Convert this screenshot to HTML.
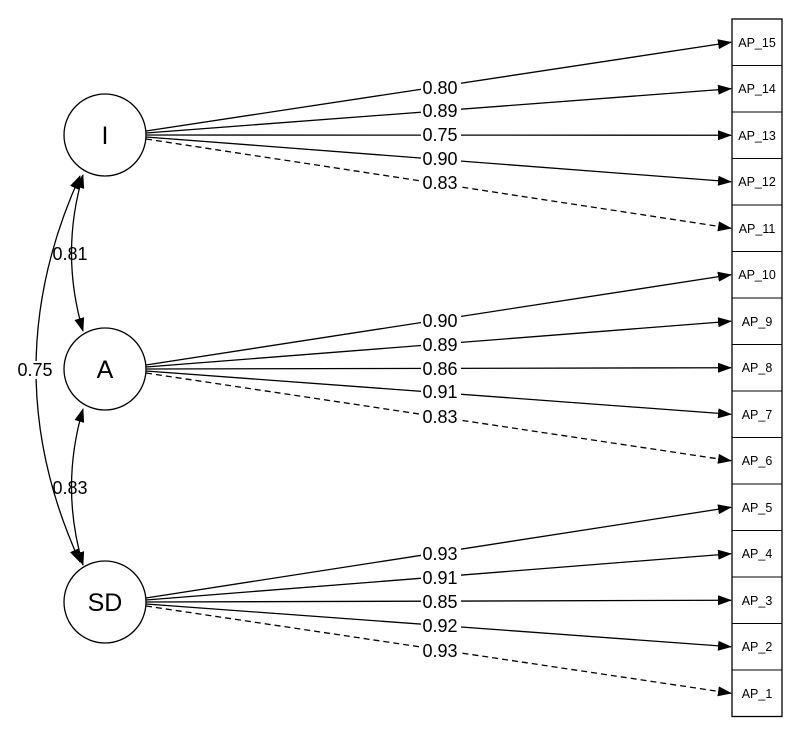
<!DOCTYPE html>
<html><head><meta charset="utf-8"><style>
html,body{margin:0;padding:0;background:#fff;}
svg{display:block;}
text{font-family:"Liberation Sans",Arial,sans-serif;fill:#000;}
</style></head><body>
<svg width="800" height="737" viewBox="0 0 800 737" xmlns="http://www.w3.org/2000/svg">
<defs>
<marker id="ah" markerWidth="14" markerHeight="10" refX="13" refY="5" orient="auto-start-reverse" markerUnits="userSpaceOnUse">
<path d="M0,0 L14,5 L0,10 z" fill="#000"/>
</marker>
</defs>
<g stroke="#000" stroke-width="1.3" fill="none">
<line x1="146" y1="131" x2="731" y2="42.25" marker-end="url(#ah)"/>
<line x1="146" y1="133" x2="731" y2="88.75" marker-end="url(#ah)"/>
<line x1="146" y1="135" x2="731" y2="135.25" marker-end="url(#ah)"/>
<line x1="146" y1="137" x2="731" y2="181.75" marker-end="url(#ah)"/>
<line x1="146" y1="139" x2="731" y2="228.25" stroke-dasharray="6,4" marker-end="url(#ah)"/>
<line x1="146" y1="365" x2="731" y2="274.75" marker-end="url(#ah)"/>
<line x1="146" y1="367" x2="731" y2="321.25" marker-end="url(#ah)"/>
<line x1="146" y1="369" x2="731" y2="367.75" marker-end="url(#ah)"/>
<line x1="146" y1="371" x2="731" y2="414.25" marker-end="url(#ah)"/>
<line x1="146" y1="373" x2="731" y2="460.75" stroke-dasharray="6,4" marker-end="url(#ah)"/>
<line x1="146" y1="598" x2="731" y2="507.25" marker-end="url(#ah)"/>
<line x1="146" y1="600" x2="731" y2="553.75" marker-end="url(#ah)"/>
<line x1="146" y1="602" x2="731" y2="600.25" marker-end="url(#ah)"/>
<line x1="146" y1="604" x2="731" y2="646.75" marker-end="url(#ah)"/>
<line x1="146" y1="606" x2="731" y2="693.25" stroke-dasharray="6,4" marker-end="url(#ah)"/>
</g>
<g stroke="#000" stroke-width="1.3" fill="#fff">
<circle cx="105" cy="135" r="41"/>
<circle cx="105" cy="369" r="41"/>
<circle cx="105" cy="602" r="41"/>
</g>
<g stroke="#000" stroke-width="1.3" fill="none">
<path d="M83,331 Q60,253 83,175" marker-end="url(#ah)" marker-start="url(#ah)"/>
<path d="M83,565 Q60,487 83,409" marker-end="url(#ah)" marker-start="url(#ah)"/>
<path d="M80,562 Q-8,370 80,176" marker-end="url(#ah)" marker-start="url(#ah)"/>
</g>
<g font-size="25" text-anchor="middle">
<text x="105" y="144">I</text>
<text x="105" y="378">A</text>
<text x="105" y="611">SD</text>
</g>
<g font-size="18" text-anchor="middle">
<g fill="#fff">
<rect x="421" y="78" width="40" height="18"/><rect x="421" y="102" width="40" height="18"/><rect x="421" y="126" width="40" height="18"/><rect x="421" y="150" width="40" height="18"/><rect x="421" y="174" width="40" height="18"/>
<rect x="421" y="311" width="40" height="18"/><rect x="421" y="335" width="40" height="18"/><rect x="421" y="360" width="40" height="18"/><rect x="421" y="383" width="40" height="18"/><rect x="421" y="408" width="40" height="18"/>
<rect x="421" y="544" width="40" height="18"/><rect x="421" y="568" width="40" height="18"/><rect x="421" y="592" width="40" height="18"/><rect x="421" y="616" width="40" height="18"/><rect x="421" y="641" width="40" height="18"/>
<rect x="15" y="361" width="40" height="18"/>
</g>
<text x="440" y="94">0.80</text><text x="440" y="117">0.89</text><text x="440" y="141">0.75</text><text x="440" y="165">0.90</text><text x="440" y="189">0.83</text>
<text x="440" y="327">0.90</text><text x="440" y="351">0.89</text><text x="440" y="375">0.86</text><text x="440" y="398">0.91</text><text x="440" y="423">0.83</text>
<text x="440" y="560">0.93</text><text x="440" y="584">0.91</text><text x="440" y="608">0.85</text><text x="440" y="632">0.92</text><text x="440" y="657">0.93</text>
<text x="70" y="260">0.81</text><text x="70" y="494">0.83</text><text x="35" y="376">0.75</text>
</g>
<g stroke="#000" stroke-width="1.3" fill="#fff">
<rect x="732" y="19" width="50" height="697.5"/>
</g>
<g stroke="#000" stroke-width="1">
<line x1="732" y1="65.5" x2="782" y2="65.5"/><line x1="732" y1="112" x2="782" y2="112"/><line x1="732" y1="158.5" x2="782" y2="158.5"/><line x1="732" y1="205" x2="782" y2="205"/><line x1="732" y1="251.5" x2="782" y2="251.5"/><line x1="732" y1="298" x2="782" y2="298"/><line x1="732" y1="344.5" x2="782" y2="344.5"/><line x1="732" y1="391" x2="782" y2="391"/><line x1="732" y1="437.5" x2="782" y2="437.5"/><line x1="732" y1="484" x2="782" y2="484"/><line x1="732" y1="530.5" x2="782" y2="530.5"/><line x1="732" y1="577" x2="782" y2="577"/><line x1="732" y1="623.5" x2="782" y2="623.5"/><line x1="732" y1="670" x2="782" y2="670"/>
</g>
<g font-size="12.5" text-anchor="middle">
<text x="757" y="47">AP_15</text><text x="757" y="93">AP_14</text><text x="757" y="140">AP_13</text><text x="757" y="186">AP_12</text><text x="757" y="233">AP_11</text>
<text x="757" y="279">AP_10</text><text x="757" y="326">AP_9</text><text x="757" y="372">AP_8</text><text x="757" y="419">AP_7</text><text x="757" y="465">AP_6</text>
<text x="757" y="512">AP_5</text><text x="757" y="558">AP_4</text><text x="757" y="605">AP_3</text><text x="757" y="651">AP_2</text><text x="757" y="698">AP_1</text>
</g>
</svg>
</body></html>
